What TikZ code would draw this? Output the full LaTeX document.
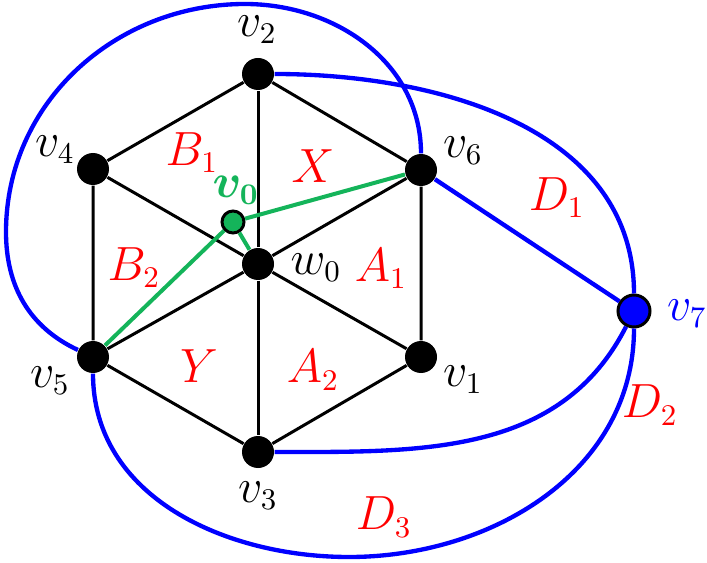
\documentclass[tikz,border=0pt]{standalone}
\usepackage{bm}
\definecolor{gr}{RGB}{20,180,90}
\begin{document}
\begin{tikzpicture}[x=0.3pt,y=0.3pt,
  vtx/.style={circle,fill=black,inner sep=0pt,minimum size=9.6pt},
  gvtx/.style={circle,fill=gr,draw=black,line width=0.9pt,inner sep=0pt,minimum size=6.6pt},
  bvtx/.style={circle,fill=blue,draw=black,line width=0.9pt,inner sep=0pt,minimum size=9.6pt},
  edge/.style={black,line width=0.9pt},
  bedge/.style={blue,line width=1.3pt},
  gedge/.style={gr,line width=1.2pt},
  lab/.style={inner sep=0pt,font=\fontsize{13.3}{16}\selectfont},
  rlab/.style={lab,red}]
\useasboundingbox (0,0) rectangle (707,-563);
% vertices
\node[vtx] (w0) at (258,-264) {};
\node[vtx] (v2) at (258,-74) {};
\node[vtx] (v6) at (421,-170) {};
\node[vtx] (v1) at (421,-357) {};
\node[vtx] (v3) at (258,-452) {};
\node[vtx] (v5) at (93,-357) {};
\node[vtx] (v4) at (93,-169) {};
\node[bvtx] (v7) at (634,-311) {};
\node[gvtx] (v0) at (233,-222) {};
\coordinate (tl) at (6,-232);
\coordinate (tp) at (245,-4);
\coordinate (bt) at (349,-557);
% blue curves
\draw[bedge] (v5) to[out=155,in=270] (tl) to[out=90,in=180] (tp) to[out=0,in=90] (v6);
\draw[bedge] (v2) to[out=0,in=90] (v7);
\draw[bedge] (v6) -- (v7);
\draw[bedge] (v3) to[out=0,in=243] (v7);
\draw[bedge] (v5) to[out=270,in=180] (bt) to[out=0,in=270] (v7);
% black edges
\draw[edge] (v2) -- (v6) -- (v1) -- (v3) -- (v5) -- (v4) -- (v2);
\foreach \v in {v1,v2,v3,v4,v5,v6} \draw[edge] (w0) -- (\v);
% green edges
\draw[gedge] (v0) -- (v6);
\draw[gedge] (v0) -- (v5);
\draw[gedge] (v0) -- (w0);
% labels
\node[lab] (lv2) at (257,-30) {$v_2$};
\node[lab] (lv4) at (55,-150) {$v_4$};
\node[lab] (lv6) at (463,-151) {$v_6$};
\node[lab] (lw0) at (316,-268) {$w_0$};
\node[lab] (lv1) at (463,-380) {$v_1$};
\node[lab] (lv5) at (50,-381) {$v_5$};
\node[lab] (lv3) at (258,-496) {$v_3$};
\node[lab,blue] (lv7) at (687,-314) {$v_7$};
\node[lab,gr] (lv0) at (236,-190) {$\bm{v_0}$};
\node[rlab] (lB1) at (192,-153) {$B_1$};
\node[rlab] (lX) at (313,-166) {$X$};
\node[rlab] (lB2) at (134,-268) {$B_2$};
\node[rlab] (lA1) at (381,-269) {$A_1$};
\node[rlab] (lY) at (199,-366) {$Y$};
\node[rlab] (lA2) at (313,-370) {$A_2$};
\node[rlab] (lD1) at (557,-198) {$D_1$};
\node[rlab] (lD2) at (650,-405) {$D_2$};
\node[rlab] (lD3) at (384,-517) {$D_3$};
\end{tikzpicture}
\end{document}
